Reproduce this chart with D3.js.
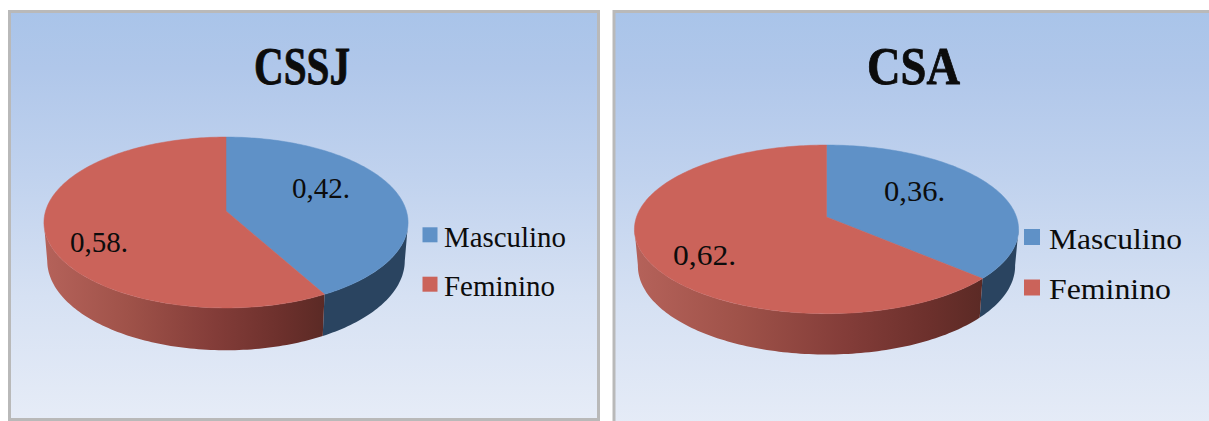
<!DOCTYPE html>
<html>
<head>
<meta charset="utf-8">
<title>Distribuição por sexo: CSSJ e CSA</title>
<script src="https://cdnjs.cloudflare.com/ajax/libs/d3/7.8.5/d3.min.js"></script>
<style>
  html, body { margin: 0; padding: 0; background: #fff; }
  svg { display: block; }
  text { font-family: "Liberation Serif", serif; fill: #0c0c0c; }
</style>
</head>
<body>
<svg id="chart" width="1209" height="421"></svg>
<script>
// Chart content
const categories = ["Masculino", "Feminino"];
const titles = ["CSSJ", "CSA"];
const valuesCSSJ = [0.42, 0.58];
const valuesCSA = [0.36, 0.62];

const colorScale = d3.scaleOrdinal().domain(categories).range(["#5f91c7", "#cb635a"]);
const wallBlue = "#2a4460";

// Page geometry of each tilted pie and its surrounding furniture
const layouts = [
  { panel: [9.5, 11.5, 589, 408],
    title: { x: 302, y: 84, w: 96 },
    pie: { cx: 226, cy: 211, rx: 180.4, k: 83.9, p: 0.1345, drop: 37.5, shrinkX: 0.982, stretchY: 1.05 },
    labels: [{ x: 292, y: 198, w: 58 }, { x: 70, y: 252, w: 58 }],
    legend: { sx: 422.5, tx: 444, sw: 15, ys: [227.3, 276.7], bs: [247, 296], tw: [122, 111] } },
  { panel: [614, 11.5, 610, 420],
    title: { x: 913.5, y: 84, w: 93 },
    pie: { cx: 826.5, cy: 217, rx: 190, k: 82.5, p: 0.1464, drop: 36, shrinkX: 0.982, stretchY: 1.05 },
    labels: [{ x: 884, y: 201, w: 61 }, { x: 673, y: 265, w: 63 }],
    legend: { sx: 1024, tx: 1049, sw: 16, ys: [229, 279.5], bs: [249, 299], tw: [133, 122] } }
];

const svg = d3.select("#chart");
const defs = svg.append("defs");

const panelFill = defs.append("linearGradient")
  .attr("id", "panelFill").attr("x1", 0).attr("y1", 0).attr("x2", 0).attr("y2", 1);
[[0, "#a9c4e9"], [0.14, "#b0c7ea"], [0.4, "#c0d2ee"], [0.7, "#d6e1f3"], [1, "#e6ecf7"]]
  .forEach(([o, c]) => panelFill.append("stop").attr("offset", o).attr("stop-color", c));

const pieLayout = d3.pie().sort(null).value(d => d);
const linePath = d3.line();
const formatValue = v => v.toFixed(2).replace(".", ",") + ".";

// Perspective projection of a unit disc: the far side is squeezed, the near side stretched.
function projector(g, lowered) {
  const sx = lowered ? g.shrinkX : 1;
  const sy = lowered ? g.stretchY : 1;
  const oy = lowered ? g.drop : 0;
  return theta => {
    const X = Math.sin(theta), Y = -Math.cos(theta);
    const w = 1 - g.p * Y;
    return [g.cx + sx * g.rx * X / w, g.cy + oy + sy * g.k * Y / w];
  };
}

function arcSamples(a0, a1, project) {
  const n = Math.max(2, Math.ceil(Math.abs(a1 - a0) / 0.02));
  return d3.range(n + 1).map(i => project(a0 + (a1 - a0) * i / n));
}

function drawChart(values, layout, idx) {
  const g = svg.append("g");
  const [px, py, pw, ph] = layout.panel;

  g.append("rect").attr("x", px).attr("y", py).attr("width", pw).attr("height", ph)
    .attr("fill", "url(#panelFill)").attr("stroke", "#b9b9b9").attr("stroke-width", 3);

  const t = layout.title;
  g.append("text").attr("x", t.x).attr("y", t.y).attr("text-anchor", "middle")
    .attr("font-size", 52).attr("font-weight", 700)
    .attr("stroke", "#0c0c0c").attr("stroke-width", 0.8)
    .attr("textLength", t.w).attr("lengthAdjust", "spacingAndGlyphs")
    .text(titles[idx]);

  const slices = pieLayout(values);
  const top = projector(layout.pie, false);
  const low = projector(layout.pie, true);
  const apex = [layout.pie.cx, layout.pie.cy];
  const rightLimit = 98 * Math.PI / 180, leftLimit = 262 * Math.PI / 180;
  const seam = slices[0].endAngle;

  // Shaded rim, running dark towards the seam between the slices
  const leftX = top(leftLimit)[0], seamX = top(seam)[0];
  const wallFill = defs.append("linearGradient")
    .attr("id", "wallRed" + idx).attr("gradientUnits", "userSpaceOnUse")
    .attr("x1", leftX).attr("y1", 0).attr("x2", seamX).attr("y2", 0);
  [[0, "#b5625a"], [0.3, "#9f5249"], [0.6, "#843d39"], [0.85, "#6c302c"], [1, "#5b2a25"]]
    .forEach(([o, c]) => wallFill.append("stop").attr("offset", o).attr("stop-color", c));

  const walls = [
    { a0: rightLimit, a1: seam, fill: wallBlue },
    { a0: seam, a1: leftLimit, fill: `url(#wallRed${idx})` }
  ];
  g.selectAll(".wall").data(walls).join("path").attr("class", "wall")
    .attr("fill", d => d.fill)
    .attr("d", d => linePath([
      ...arcSamples(d.a0, d.a1, top),
      ...arcSamples(d.a1, d.a0, low)
    ]) + "Z");

  // Top face of the pie
  g.selectAll(".slice").data(slices).join("path").attr("class", "slice")
    .attr("fill", (d, i) => colorScale(categories[i]))
    .attr("stroke", (d, i) => colorScale(categories[i])).attr("stroke-width", 0.5)
    .attr("d", d => linePath([apex, ...arcSamples(d.startAngle, d.endAngle, top)]) + "Z");

  // Value labels
  g.selectAll(".value").data(values).join("text").attr("class", "value")
    .attr("x", (d, i) => layout.labels[i].x).attr("y", (d, i) => layout.labels[i].y)
    .attr("font-size", 30)
    .attr("textLength", (d, i) => layout.labels[i].w).attr("lengthAdjust", "spacingAndGlyphs")
    .text(formatValue);

  // Legend
  const leg = layout.legend;
  g.selectAll(".swatch").data(categories).join("rect").attr("class", "swatch")
    .attr("x", leg.sx).attr("y", (d, i) => leg.ys[i])
    .attr("width", leg.sw).attr("height", leg.sw).attr("fill", d => colorScale(d));
  g.selectAll(".entry").data(categories).join("text").attr("class", "entry")
    .attr("x", leg.tx).attr("y", (d, i) => leg.bs[i])
    .attr("font-size", 30)
    .attr("textLength", (d, i) => leg.tw[i]).attr("lengthAdjust", "spacingAndGlyphs")
    .text(d => d);
}

drawChart(valuesCSSJ, layouts[0], 0);
drawChart(valuesCSA, layouts[1], 1);
</script>
</body>
</html>
